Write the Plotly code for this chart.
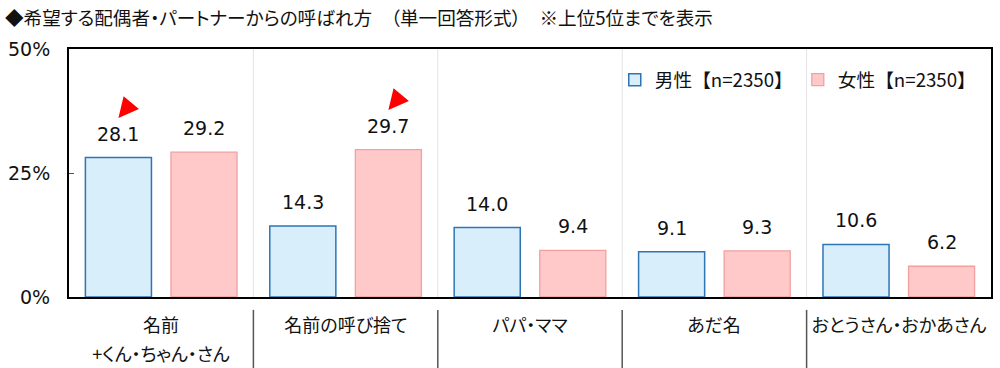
import plotly.graph_objects as go

# ---- data ----
categories = ["名前\n+くん・ちゃん・さん", "名前の呼び捨て", "パパ・ママ", "あだ名", "おとうさん・おかあさん"]
male_values = [28.1, 14.3, 14.0, 9.1, 10.6]
female_values = [29.2, 29.7, 9.4, 9.3, 6.2]
male_name = "男性【n=2350】"
female_name = "女性【n=2350】"
y_tickvals = [0, 25, 50]
y_ticktext = ["0%", "25%", "50%"]
title_text = "◆希望する配偶者・パートナーからの呼ばれ方　（単一回答形式）　※上位5位までを表示"
# highlight markers: (category index, series) pointing at a label
highlights = [(0, "male"), (1, "female")]

FONT = "DejaVu Sans, Noto Sans CJK JP, sans-serif"
JFONT = "Noto Sans CJK JP, DejaVu Sans, sans-serif"
BARGAP = 0.072
BARGROUPGAP = 0.228

x_idx = list(range(len(categories)))

fig = go.Figure()
fig.add_trace(go.Bar(
    x=x_idx, y=male_values, name=male_name,
    marker=dict(color="#D9EEFB", line=dict(color="#2E75B6", width=1.5)),
))
fig.add_trace(go.Bar(
    x=x_idx, y=female_values, name=female_name,
    marker=dict(color="#FFC9C9", line=dict(color="#F2A0A0", width=1.3)),
))

slot = (1 - BARGAP) / 2
offsets = {"male": -slot / 2, "female": slot / 2}
values = {"male": male_values, "female": female_values}

annotations = []
for i in x_idx:
    for key in ("male", "female"):
        v = values[key][i]
        annotations.append(dict(
            x=i + offsets[key], y=v, xref="x", yref="y",
            text=f"{v:.1f}", showarrow=False, yanchor="bottom", yshift=11,
            font=dict(family=FONT, size=19, color="#111111"),
        ))

# y tick labels (placed at the axis tick values)
for tv, tt in zip(y_tickvals, y_ticktext):
    annotations.append(dict(
        x=0, y=tv, xref="paper", yref="y", text=tt, showarrow=False,
        xanchor="right", yanchor="middle", xshift=-17,
        font=dict(family=FONT, size=19, color="#111111"),
    ))

# category labels below axis
for i, lab in enumerate(categories):
    for j, line in enumerate(lab.split("\n")):
        annotations.append(dict(
            x=i, y=0, xref="x", yref="paper", text=line, showarrow=False,
            yanchor="middle", yshift=-27 - 29 * j,
            font=dict(family=JFONT, size=18, color="#111111"),
        ))

shapes = []
for i in x_idx[:-1]:
    b = i + 0.5
    shapes.append(dict(type="line", xref="x", yref="paper", x0=b, x1=b, y0=0, y1=1,
                       line=dict(color="#E4E4E4", width=1), layer="below"))
    shapes.append(dict(type="line", xref="x", yref="paper", x0=b, x1=b, y0=-0.052, y1=-0.3,
                       line=dict(color="#555555", width=1.5)))

# red highlight markers
hx, hy = [], []
for i, key in highlights:
    hx.append(i + offsets[key])
    hy.append(values[key][i] + 8)
fig.add_trace(go.Scatter(
    x=hx, y=hy, mode="markers", showlegend=False, hoverinfo="skip",
    marker=dict(symbol="arrow-down", size=20, angle=40, color="#FF0000",
                line=dict(width=0)),
))

fig.update_layout(
    width=1000, height=368,
    margin=dict(l=69, r=9, t=49, b=71, autoexpand=False),
    paper_bgcolor="white", plot_bgcolor="white",
    barmode="group", bargap=BARGAP, bargroupgap=BARGROUPGAP,
    font=dict(family=FONT, color="#111111"),
    title=dict(text=title_text, x=0.005, xref="container", xanchor="left",
               y=1 - 18 / 368, yanchor="middle", yref="container",
               font=dict(family=JFONT, size=18.6, color="#111111")),
    legend=dict(orientation="h", x=0.99, xanchor="right", y=0.875, yanchor="middle",
                font=dict(family=JFONT, size=18.7, color="#111111"),
                bgcolor="rgba(255,255,255,0)", itemwidth=30, traceorder="normal"),
    annotations=annotations, shapes=shapes,
    xaxis=dict(range=[-0.5, len(categories) - 0.5], showticklabels=False, ticks="",
               showgrid=False, zeroline=False, showline=True, linecolor="#000000",
               linewidth=1.5, mirror=True, fixedrange=True, automargin=False),
    yaxis=dict(range=[0, 50], tickvals=y_tickvals, showticklabels=False,
               ticks="inside", ticklen=5, tickcolor="#555555",
               showgrid=False, zeroline=False, showline=True, linecolor="#000000",
               linewidth=1.5, mirror=True, automargin=False),
    showlegend=True,
)

# page styling: no body margin; proportional kana spacing for Japanese texts
post = (
    "document.body.style.margin='0';"
    "document.querySelectorAll('.annotation-text, .gtitle').forEach(function(t){"
    "t.style.fontFeatureSettings='\"palt\"';});"
)
fig.write_html("out.html", post_script=post, config={"displayModeBar": False})
